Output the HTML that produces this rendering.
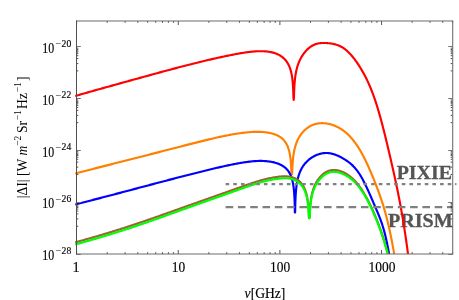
<!DOCTYPE html>
<html><head><meta charset="utf-8"><title>plot</title>
<style>
html,body{margin:0;padding:0;background:#fff;}
#c{position:relative;width:459px;height:300px;overflow:hidden;background:#fff;font-family:"Liberation Serif",serif;color:#000;}
svg{position:absolute;left:0;top:0;will-change:transform;}
</style></head><body>
<div id="c">
<svg width="459" height="300" viewBox="0 0 459 300">
<defs><clipPath id="cp"><rect x="75.2" y="21.0" width="377.3" height="233.0"/></clipPath></defs>
<g font-family="Liberation Serif, serif" font-size="19" font-weight="bold" fill="#555" stroke="#555" stroke-width="0.3">
<text x="396.7" y="178.9" textLength="55.2" lengthAdjust="spacingAndGlyphs">PIXIE</text>
<text x="387.9" y="226.7" textLength="64.8" lengthAdjust="spacingAndGlyphs">PRISM</text>
</g>
<g clip-path="url(#cp)" fill="none" stroke-linejoin="round">
<path d="M75.00,96.06 L76.00,95.77 L77.00,95.48 L78.00,95.20 L79.00,94.91 L80.00,94.63 L81.00,94.34 L82.00,94.06 L83.00,93.77 L84.00,93.49 L85.00,93.20 L86.00,92.92 L87.00,92.63 L88.00,92.35 L89.00,92.07 L90.00,91.79 L91.00,91.50 L92.00,91.22 L93.00,90.94 L94.00,90.66 L95.00,90.38 L96.00,90.09 L97.00,89.81 L98.00,89.53 L99.00,89.25 L100.00,88.97 L101.00,88.69 L102.00,88.41 L103.00,88.13 L104.00,87.85 L105.00,87.57 L106.00,87.29 L107.00,87.01 L108.00,86.73 L109.00,86.45 L110.00,86.18 L111.00,85.90 L112.00,85.62 L113.00,85.34 L114.00,85.06 L115.00,84.78 L116.00,84.51 L117.00,84.23 L118.00,83.95 L119.00,83.67 L120.00,83.40 L121.00,83.12 L122.00,82.84 L123.00,82.57 L124.00,82.29 L125.00,82.01 L126.00,81.73 L127.00,81.46 L128.00,81.18 L129.00,80.90 L130.00,80.63 L131.00,80.35 L132.00,80.08 L133.00,79.80 L134.00,79.52 L135.00,79.25 L136.00,78.97 L137.00,78.69 L138.00,78.42 L139.00,78.14 L140.00,77.87 L141.00,77.59 L142.00,77.32 L143.00,77.04 L144.00,76.77 L145.00,76.49 L146.00,76.22 L147.00,75.94 L148.00,75.67 L149.00,75.39 L150.00,75.12 L151.00,74.84 L152.00,74.57 L153.00,74.30 L154.00,74.02 L155.00,73.75 L156.00,73.48 L157.00,73.21 L158.00,72.93 L159.00,72.66 L160.00,72.39 L161.00,72.12 L162.00,71.85 L163.00,71.58 L164.00,71.31 L165.00,71.04 L166.00,70.77 L167.00,70.50 L168.00,70.23 L169.00,69.96 L170.00,69.70 L171.00,69.43 L172.00,69.16 L173.00,68.90 L174.00,68.63 L175.00,68.37 L176.00,68.10 L177.00,67.84 L178.00,67.57 L179.00,67.31 L180.00,67.05 L181.00,66.79 L182.00,66.53 L183.00,66.27 L184.00,66.01 L185.00,65.75 L186.00,65.49 L187.00,65.24 L188.00,64.98 L189.00,64.73 L190.00,64.47 L191.00,64.22 L192.00,63.96 L193.00,63.71 L194.00,63.46 L195.00,63.21 L196.00,62.96 L197.00,62.72 L198.00,62.47 L199.00,62.22 L200.00,61.98 L201.00,61.73 L202.00,61.49 L203.00,61.25 L204.00,61.01 L205.00,60.77 L206.00,60.53 L207.00,60.30 L208.00,60.06 L209.00,59.82 L210.00,59.59 L211.00,59.36 L212.00,59.13 L213.00,58.90 L214.00,58.67 L215.00,58.44 L216.00,58.22 L217.00,57.99 L218.00,57.77 L219.00,57.55 L220.00,57.33 L221.00,57.11 L222.00,56.89 L223.00,56.68 L224.00,56.47 L225.00,56.25 L226.00,56.05 L227.00,55.84 L228.00,55.63 L229.00,55.43 L230.00,55.23 L231.00,55.03 L232.00,54.83 L233.00,54.63 L234.00,54.44 L235.00,54.25 L236.00,54.06 L237.00,53.88 L238.00,53.70 L239.00,53.52 L240.00,53.34 L241.00,53.17 L242.00,53.01 L243.00,52.84 L244.00,52.69 L245.00,52.54 L246.00,52.39 L247.00,52.25 L248.00,52.12 L249.00,52.00 L250.00,51.88 L251.00,51.77 L252.00,51.66 L253.00,51.57 L254.00,51.49 L255.00,51.41 L256.00,51.35 L257.00,51.29 L258.00,51.25 L259.00,51.22 L260.00,51.21 L261.00,51.20 L262.00,51.21 L263.00,51.24 L264.00,51.28 L265.00,51.34 L266.00,51.42 L267.00,51.52 L268.00,51.64 L269.00,51.78 L270.00,51.94 L271.00,52.13 L272.00,52.35 L273.00,52.60 L274.00,52.88 L275.00,53.20 L276.00,53.56 L277.00,53.96 L278.00,54.41 L279.00,54.91 L280.00,55.48 L281.00,56.11 L282.00,56.82 L283.00,57.61 L284.00,58.51 L285.00,59.54 L286.00,60.71 L287.00,62.08 L288.00,63.70 L289.00,65.67 L290.00,68.16 L290.70,70.38 L290.75,70.55 L290.80,70.74 L290.85,70.92 L290.90,71.11 L290.95,71.30 L291.00,71.50 L291.05,71.70 L291.10,71.90 L291.15,72.11 L291.20,72.32 L291.25,72.54 L291.30,72.76 L291.35,72.99 L291.40,73.22 L291.45,73.46 L291.50,73.70 L291.55,73.95 L291.60,74.20 L291.65,74.46 L291.70,74.73 L291.75,75.00 L291.80,75.28 L291.85,75.57 L291.90,75.87 L291.95,76.18 L292.00,76.49 L292.05,76.82 L292.10,77.15 L292.15,77.50 L292.20,77.86 L292.25,78.23 L292.30,78.61 L292.35,79.01 L292.40,79.42 L292.45,79.85 L292.50,80.30 L292.55,80.77 L292.60,81.26 L292.65,81.77 L292.70,82.31 L292.75,82.87 L292.80,83.47 L292.85,84.10 L292.90,84.77 L292.95,85.49 L293.00,86.25 L293.05,87.07 L293.10,87.96 L293.15,88.93 L293.20,89.99 L293.25,91.16 L293.30,92.48 L293.35,93.97 L293.40,95.69 L293.45,97.73 L293.70,100.00 L293.95,97.61 L294.00,95.55 L294.05,93.81 L294.10,92.30 L294.15,90.96 L294.20,89.76 L294.25,88.68 L294.30,87.69 L294.35,86.78 L294.40,85.93 L294.45,85.15 L294.50,84.41 L294.55,83.72 L294.60,83.06 L294.65,82.44 L294.70,81.85 L294.75,81.29 L294.80,80.76 L294.85,80.25 L294.90,79.76 L294.95,79.29 L295.00,78.83 L295.05,78.40 L295.10,77.98 L295.15,77.57 L295.20,77.18 L295.25,76.80 L295.30,76.43 L295.35,76.07 L295.40,75.72 L295.45,75.38 L295.50,75.05 L295.55,74.73 L295.60,74.42 L295.65,74.12 L295.70,73.82 L295.75,73.53 L295.80,73.25 L295.85,72.97 L295.90,72.70 L295.95,72.43 L296.00,72.17 L296.05,71.92 L296.10,71.67 L296.15,71.43 L296.20,71.19 L296.25,70.95 L296.30,70.72 L296.35,70.49 L296.40,70.27 L296.45,70.05 L296.50,69.84 L296.55,69.62 L296.60,69.42 L296.65,69.21 L296.70,69.01 L297.20,67.15 L297.70,65.52 L298.20,64.06 L298.70,62.74 L299.20,61.54 L299.70,60.42 L300.20,59.39 L300.70,58.42 L301.20,57.52 L301.70,56.66 L302.20,55.85 L302.70,55.09 L303.20,54.36 L303.70,53.66 L304.20,53.00 L304.70,52.37 L305.20,51.76 L305.70,51.19 L306.20,50.63 L306.70,50.11 L307.20,49.60 L307.70,49.12 L308.20,48.66 L308.70,48.22 L309.20,47.80 L309.70,47.40 L310.20,47.03 L310.70,46.67 L311.20,46.33 L311.70,46.01 L312.20,45.72 L312.70,45.44 L313.20,45.18 L313.70,44.93 L314.20,44.71 L314.70,44.50 L315.20,44.31 L315.70,44.13 L316.20,43.97 L316.70,43.82 L317.20,43.69 L317.70,43.57 L318.20,43.46 L318.70,43.36 L319.20,43.28 L319.70,43.21 L320.20,43.14 L320.70,43.09 L321.20,43.05 L321.70,43.01 L322.20,42.99 L322.70,42.97 L323.20,42.96 L323.70,42.96 L324.20,42.96 L324.70,42.97 L325.20,42.99 L325.70,43.01 L326.20,43.04 L326.70,43.07 L327.20,43.11 L327.70,43.15 L328.20,43.20 L328.70,43.25 L329.20,43.30 L329.70,43.35 L330.20,43.42 L330.70,43.48 L331.20,43.56 L331.70,43.63 L332.20,43.72 L332.70,43.81 L333.20,43.91 L333.70,44.01 L334.20,44.12 L334.70,44.24 L335.20,44.37 L335.70,44.51 L336.20,44.66 L336.70,44.82 L337.20,44.98 L337.70,45.16 L338.20,45.35 L338.70,45.55 L339.20,45.76 L339.70,45.98 L340.20,46.22 L340.70,46.46 L341.20,46.73 L341.70,47.00 L342.20,47.29 L342.70,47.59 L343.20,47.91 L343.70,48.25 L344.20,48.60 L344.70,48.96 L345.20,49.34 L345.70,49.74 L346.20,50.15 L346.70,50.58 L347.20,51.02 L347.70,51.48 L348.20,51.95 L348.70,52.44 L349.20,52.94 L349.70,53.46 L350.20,53.99 L350.70,54.53 L351.20,55.10 L351.70,55.67 L352.20,56.26 L352.70,56.86 L353.20,57.48 L353.70,58.11 L354.20,58.75 L354.70,59.41 L355.20,60.08 L355.70,60.77 L356.20,61.47 L356.70,62.18 L357.20,62.90 L357.70,63.64 L358.20,64.39 L358.70,65.15 L359.20,65.93 L359.70,66.71 L360.20,67.52 L360.70,68.33 L361.20,69.15 L361.70,69.99 L362.20,70.85 L362.70,71.72 L363.20,72.61 L363.70,73.51 L364.20,74.43 L364.70,75.37 L365.20,76.32 L365.70,77.30 L366.20,78.30 L366.70,79.31 L367.20,80.35 L367.70,81.41 L368.20,82.49 L368.70,83.60 L369.20,84.73 L369.70,85.89 L370.20,87.07 L370.70,88.27 L371.20,89.51 L371.70,90.77 L372.20,92.06 L372.70,93.38 L373.20,94.72 L373.70,96.10 L374.20,97.51 L374.70,98.95 L375.20,100.42 L375.70,101.93 L376.20,103.46 L376.70,105.04 L377.20,106.64 L377.70,108.28 L378.20,109.95 L378.70,111.64 L379.20,113.37 L379.70,115.13 L380.20,116.91 L380.70,118.72 L381.20,120.56 L381.70,122.42 L382.20,124.31 L382.70,126.22 L383.20,128.15 L383.70,130.11 L384.20,132.08 L384.70,134.08 L385.20,136.10 L385.70,138.13 L386.20,140.18 L386.70,142.25 L387.20,144.33 L387.70,146.43 L388.20,148.55 L388.70,150.68 L389.20,152.82 L389.70,154.97 L390.20,157.13 L390.70,159.31 L391.20,161.49 L391.70,163.68 L392.20,165.88 L392.70,168.09 L393.20,170.30 L393.70,172.54 L394.20,174.79 L394.70,177.05 L395.20,179.34 L395.70,181.66 L396.20,184.00 L396.70,186.37 L397.20,188.77 L397.70,191.21 L398.20,193.69 L398.70,196.21 L399.20,198.77 L399.70,201.38 L400.20,204.04 L400.70,206.75 L401.20,209.51 L401.70,212.33 L402.20,215.22 L402.70,218.16 L403.20,221.17 L403.70,224.25 L404.20,227.40 L404.70,230.62 L405.20,233.92 L405.70,237.29 L406.20,240.75 L406.70,244.30 L407.20,247.93 L407.70,251.65 L408.20,255.46 L408.70,259.37 L409.20,263.38 L409.70,267.48" stroke="#ff0000" stroke-width="2.15"/>
<path d="M75.00,173.58 L76.00,173.32 L77.00,173.06 L78.00,172.80 L79.00,172.53 L80.00,172.27 L81.00,172.01 L82.00,171.75 L83.00,171.50 L84.00,171.24 L85.00,170.98 L86.00,170.72 L87.00,170.46 L88.00,170.21 L89.00,169.95 L90.00,169.69 L91.00,169.43 L92.00,169.18 L93.00,168.92 L94.00,168.67 L95.00,168.41 L96.00,168.15 L97.00,167.90 L98.00,167.64 L99.00,167.39 L100.00,167.13 L101.00,166.88 L102.00,166.63 L103.00,166.37 L104.00,166.12 L105.00,165.86 L106.00,165.61 L107.00,165.36 L108.00,165.10 L109.00,164.85 L110.00,164.59 L111.00,164.34 L112.00,164.09 L113.00,163.83 L114.00,163.58 L115.00,163.33 L116.00,163.07 L117.00,162.82 L118.00,162.57 L119.00,162.31 L120.00,162.06 L121.00,161.81 L122.00,161.55 L123.00,161.30 L124.00,161.05 L125.00,160.79 L126.00,160.54 L127.00,160.29 L128.00,160.03 L129.00,159.78 L130.00,159.52 L131.00,159.27 L132.00,159.02 L133.00,158.76 L134.00,158.51 L135.00,158.25 L136.00,158.00 L137.00,157.74 L138.00,157.49 L139.00,157.23 L140.00,156.98 L141.00,156.72 L142.00,156.46 L143.00,156.21 L144.00,155.95 L145.00,155.70 L146.00,155.44 L147.00,155.18 L148.00,154.93 L149.00,154.67 L150.00,154.41 L151.00,154.16 L152.00,153.90 L153.00,153.64 L154.00,153.38 L155.00,153.13 L156.00,152.87 L157.00,152.61 L158.00,152.35 L159.00,152.10 L160.00,151.84 L161.00,151.58 L162.00,151.32 L163.00,151.07 L164.00,150.81 L165.00,150.55 L166.00,150.29 L167.00,150.04 L168.00,149.78 L169.00,149.52 L170.00,149.26 L171.00,149.00 L172.00,148.75 L173.00,148.49 L174.00,148.23 L175.00,147.97 L176.00,147.72 L177.00,147.46 L178.00,147.20 L179.00,146.95 L180.00,146.69 L181.00,146.43 L182.00,146.18 L183.00,145.92 L184.00,145.66 L185.00,145.41 L186.00,145.15 L187.00,144.90 L188.00,144.64 L189.00,144.39 L190.00,144.13 L191.00,143.88 L192.00,143.62 L193.00,143.37 L194.00,143.12 L195.00,142.87 L196.00,142.61 L197.00,142.36 L198.00,142.11 L199.00,141.86 L200.00,141.61 L201.00,141.36 L202.00,141.11 L203.00,140.86 L204.00,140.62 L205.00,140.37 L206.00,140.13 L207.00,139.88 L208.00,139.64 L209.00,139.40 L210.00,139.16 L211.00,138.93 L212.00,138.69 L213.00,138.46 L214.00,138.23 L215.00,138.00 L216.00,137.77 L217.00,137.54 L218.00,137.32 L219.00,137.10 L220.00,136.88 L221.00,136.66 L222.00,136.45 L223.00,136.24 L224.00,136.03 L225.00,135.83 L226.00,135.63 L227.00,135.43 L228.00,135.23 L229.00,135.04 L230.00,134.85 L231.00,134.67 L232.00,134.49 L233.00,134.31 L234.00,134.14 L235.00,133.97 L236.00,133.81 L237.00,133.65 L238.00,133.50 L239.00,133.35 L240.00,133.21 L241.00,133.07 L242.00,132.94 L243.00,132.81 L244.00,132.69 L245.00,132.58 L246.00,132.47 L247.00,132.37 L248.00,132.28 L249.00,132.20 L250.00,132.12 L251.00,132.05 L252.00,131.99 L253.00,131.94 L254.00,131.90 L255.00,131.87 L256.00,131.85 L257.00,131.84 L258.00,131.84 L259.00,131.86 L260.00,131.88 L261.00,131.93 L262.00,131.98 L263.00,132.05 L264.00,132.14 L265.00,132.24 L266.00,132.36 L267.00,132.50 L268.00,132.66 L269.00,132.84 L270.00,133.04 L271.00,133.26 L272.00,133.52 L273.00,133.80 L274.00,134.12 L275.00,134.47 L276.00,134.86 L277.00,135.29 L278.00,135.78 L279.00,136.32 L280.00,136.93 L281.00,137.63 L282.00,138.42 L283.00,139.32 L284.00,140.38 L285.00,141.62 L286.00,143.11 L287.00,144.95 L288.00,147.29 L288.80,149.72 L288.85,149.89 L288.90,150.07 L288.95,150.25 L289.00,150.44 L289.05,150.63 L289.10,150.82 L289.15,151.01 L289.20,151.21 L289.25,151.42 L289.30,151.63 L289.35,151.84 L289.40,152.06 L289.45,152.28 L289.50,152.51 L289.55,152.74 L289.60,152.98 L289.65,153.23 L289.70,153.48 L289.75,153.73 L289.80,154.00 L289.85,154.27 L289.90,154.55 L289.95,154.83 L290.00,155.13 L290.05,155.43 L290.10,155.74 L290.15,156.07 L290.20,156.40 L290.25,156.74 L290.30,157.10 L290.35,157.46 L290.40,157.84 L290.45,158.24 L290.50,158.65 L290.55,159.08 L290.60,159.52 L290.65,159.99 L290.70,160.48 L290.75,160.99 L290.80,161.52 L290.85,162.08 L290.90,162.68 L290.95,163.31 L291.00,163.98 L291.05,164.69 L291.10,165.45 L291.15,166.27 L291.20,167.16 L291.25,168.12 L291.30,169.18 L291.35,170.35 L291.40,171.66 L291.45,173.15 L291.80,174.50 L292.15,172.97 L292.20,171.46 L292.25,170.12 L292.30,168.92 L292.35,167.84 L292.40,166.85 L292.45,165.93 L292.50,165.09 L292.55,164.30 L292.60,163.56 L292.65,162.87 L292.70,162.21 L292.75,161.59 L292.80,161.00 L292.85,160.44 L292.90,159.91 L292.95,159.39 L293.00,158.90 L293.05,158.43 L293.10,157.98 L293.15,157.54 L293.20,157.12 L293.25,156.71 L293.30,156.32 L293.35,155.94 L293.40,155.57 L293.45,155.21 L293.50,154.86 L293.55,154.52 L293.60,154.20 L293.65,153.88 L293.70,153.56 L293.75,153.26 L293.80,152.96 L293.85,152.67 L293.90,152.39 L293.95,152.11 L294.00,151.84 L294.05,151.58 L294.10,151.32 L294.15,151.07 L294.20,150.82 L294.25,150.57 L294.30,150.33 L294.35,150.10 L294.40,149.87 L294.45,149.64 L294.50,149.42 L294.55,149.20 L294.60,148.99 L294.65,148.78 L294.70,148.57 L294.75,148.37 L294.80,148.17 L295.30,146.32 L295.80,144.71 L296.30,143.28 L296.80,141.99 L297.30,140.81 L297.80,139.74 L298.30,138.74 L298.80,137.82 L299.30,136.95 L299.80,136.14 L300.30,135.38 L300.80,134.66 L301.30,133.99 L301.80,133.34 L302.30,132.73 L302.80,132.15 L303.30,131.60 L303.80,131.07 L304.30,130.57 L304.80,130.09 L305.30,129.63 L305.80,129.20 L306.30,128.78 L306.80,128.38 L307.30,128.00 L307.80,127.64 L308.30,127.30 L308.80,126.97 L309.30,126.66 L309.80,126.36 L310.30,126.08 L310.80,125.82 L311.30,125.57 L311.80,125.33 L312.30,125.11 L312.80,124.90 L313.30,124.71 L313.80,124.52 L314.30,124.36 L314.80,124.20 L315.30,124.06 L315.80,123.92 L316.30,123.80 L316.80,123.69 L317.30,123.59 L317.80,123.51 L318.30,123.43 L318.80,123.36 L319.30,123.31 L319.80,123.26 L320.30,123.22 L320.80,123.20 L321.30,123.18 L321.80,123.17 L322.30,123.17 L322.80,123.18 L323.30,123.20 L323.80,123.22 L324.30,123.26 L324.80,123.30 L325.30,123.35 L325.80,123.41 L326.30,123.48 L326.80,123.55 L327.30,123.63 L327.80,123.72 L328.30,123.82 L328.80,123.92 L329.30,124.03 L329.80,124.15 L330.30,124.28 L330.80,124.41 L331.30,124.55 L331.80,124.70 L332.30,124.86 L332.80,125.02 L333.30,125.20 L333.80,125.38 L334.30,125.57 L334.80,125.77 L335.30,125.98 L335.80,126.19 L336.30,126.42 L336.80,126.65 L337.30,126.89 L337.80,127.15 L338.30,127.41 L338.80,127.68 L339.30,127.96 L339.80,128.25 L340.30,128.55 L340.80,128.86 L341.30,129.18 L341.80,129.51 L342.30,129.85 L342.80,130.20 L343.30,130.57 L343.80,130.94 L344.30,131.32 L344.80,131.72 L345.30,132.13 L345.80,132.54 L346.30,132.97 L346.80,133.42 L347.30,133.87 L347.80,134.34 L348.30,134.81 L348.80,135.31 L349.30,135.81 L349.80,136.33 L350.30,136.86 L350.80,137.40 L351.30,137.96 L351.80,138.54 L352.30,139.13 L352.80,139.73 L353.30,140.34 L353.80,140.98 L354.30,141.62 L354.80,142.29 L355.30,142.97 L355.80,143.66 L356.30,144.37 L356.80,145.10 L357.30,145.84 L357.80,146.60 L358.30,147.38 L358.80,148.18 L359.30,148.99 L359.80,149.82 L360.30,150.67 L360.80,151.53 L361.30,152.42 L361.80,153.32 L362.30,154.24 L362.80,155.17 L363.30,156.12 L363.80,157.09 L364.30,158.07 L364.80,159.07 L365.30,160.09 L365.80,161.12 L366.30,162.16 L366.80,163.22 L367.30,164.30 L367.80,165.38 L368.30,166.49 L368.80,167.60 L369.30,168.73 L369.80,169.87 L370.30,171.02 L370.80,172.19 L371.30,173.37 L371.80,174.56 L372.30,175.76 L372.80,176.97 L373.30,178.20 L373.80,179.43 L374.30,180.68 L374.80,181.93 L375.30,183.20 L375.80,184.47 L376.30,185.76 L376.80,187.05 L377.30,188.36 L377.80,189.68 L378.30,191.02 L378.80,192.38 L379.30,193.76 L379.80,195.16 L380.30,196.58 L380.80,198.04 L381.30,199.52 L381.80,201.03 L382.30,202.57 L382.80,204.15 L383.30,205.77 L383.80,207.42 L384.30,209.12 L384.80,210.85 L385.30,212.64 L385.80,214.47 L386.30,216.34 L386.80,218.27 L387.30,220.26 L387.80,222.29 L388.30,224.39 L388.80,226.54 L389.30,228.76 L389.80,231.03 L390.30,233.38 L390.80,235.79 L391.30,238.27 L391.80,240.82 L392.30,243.44 L392.80,246.14 L393.30,248.91 L393.80,251.77 L394.30,254.70 L394.80,257.72 L395.30,260.83 L395.80,264.02" stroke="#ff8000" stroke-width="2.15"/>
<path d="M75.00,204.49 L76.00,204.24 L77.00,203.99 L78.00,203.74 L79.00,203.49 L80.00,203.23 L81.00,202.98 L82.00,202.73 L83.00,202.47 L84.00,202.22 L85.00,201.97 L86.00,201.71 L87.00,201.45 L88.00,201.20 L89.00,200.94 L90.00,200.69 L91.00,200.43 L92.00,200.17 L93.00,199.91 L94.00,199.66 L95.00,199.40 L96.00,199.14 L97.00,198.88 L98.00,198.62 L99.00,198.36 L100.00,198.10 L101.00,197.84 L102.00,197.58 L103.00,197.32 L104.00,197.06 L105.00,196.80 L106.00,196.53 L107.00,196.27 L108.00,196.01 L109.00,195.75 L110.00,195.49 L111.00,195.22 L112.00,194.96 L113.00,194.70 L114.00,194.43 L115.00,194.17 L116.00,193.91 L117.00,193.64 L118.00,193.38 L119.00,193.11 L120.00,192.85 L121.00,192.59 L122.00,192.32 L123.00,192.06 L124.00,191.79 L125.00,191.53 L126.00,191.26 L127.00,191.00 L128.00,190.73 L129.00,190.47 L130.00,190.20 L131.00,189.94 L132.00,189.67 L133.00,189.41 L134.00,189.14 L135.00,188.88 L136.00,188.61 L137.00,188.35 L138.00,188.08 L139.00,187.82 L140.00,187.55 L141.00,187.29 L142.00,187.02 L143.00,186.76 L144.00,186.49 L145.00,186.23 L146.00,185.96 L147.00,185.70 L148.00,185.43 L149.00,185.17 L150.00,184.90 L151.00,184.64 L152.00,184.37 L153.00,184.11 L154.00,183.85 L155.00,183.58 L156.00,183.32 L157.00,183.05 L158.00,182.79 L159.00,182.53 L160.00,182.26 L161.00,182.00 L162.00,181.74 L163.00,181.47 L164.00,181.21 L165.00,180.95 L166.00,180.69 L167.00,180.42 L168.00,180.16 L169.00,179.90 L170.00,179.64 L171.00,179.37 L172.00,179.11 L173.00,178.85 L174.00,178.59 L175.00,178.33 L176.00,178.07 L177.00,177.81 L178.00,177.55 L179.00,177.29 L180.00,177.03 L181.00,176.77 L182.00,176.51 L183.00,176.25 L184.00,176.00 L185.00,175.74 L186.00,175.48 L187.00,175.22 L188.00,174.97 L189.00,174.71 L190.00,174.46 L191.00,174.20 L192.00,173.95 L193.00,173.69 L194.00,173.44 L195.00,173.19 L196.00,172.93 L197.00,172.68 L198.00,172.43 L199.00,172.18 L200.00,171.93 L201.00,171.68 L202.00,171.43 L203.00,171.18 L204.00,170.94 L205.00,170.69 L206.00,170.44 L207.00,170.20 L208.00,169.96 L209.00,169.71 L210.00,169.47 L211.00,169.23 L212.00,168.99 L213.00,168.76 L214.00,168.52 L215.00,168.29 L216.00,168.05 L217.00,167.82 L218.00,167.59 L219.00,167.36 L220.00,167.13 L221.00,166.91 L222.00,166.68 L223.00,166.46 L224.00,166.24 L225.00,166.02 L226.00,165.81 L227.00,165.59 L228.00,165.38 L229.00,165.17 L230.00,164.96 L231.00,164.76 L232.00,164.55 L233.00,164.35 L234.00,164.16 L235.00,163.96 L236.00,163.77 L237.00,163.58 L238.00,163.40 L239.00,163.22 L240.00,163.04 L241.00,162.87 L242.00,162.70 L243.00,162.54 L244.00,162.38 L245.00,162.23 L246.00,162.09 L247.00,161.95 L248.00,161.82 L249.00,161.69 L250.00,161.58 L251.00,161.47 L252.00,161.37 L253.00,161.27 L254.00,161.19 L255.00,161.12 L256.00,161.06 L257.00,161.01 L258.00,160.97 L259.00,160.94 L260.00,160.93 L261.00,160.93 L262.00,160.94 L263.00,160.97 L264.00,161.01 L265.00,161.07 L266.00,161.14 L267.00,161.23 L268.00,161.34 L269.00,161.47 L270.00,161.61 L271.00,161.78 L272.00,161.97 L273.00,162.17 L274.00,162.41 L275.00,162.66 L276.00,162.95 L277.00,163.27 L278.00,163.62 L279.00,164.01 L280.00,164.44 L281.00,164.92 L282.00,165.46 L283.00,166.06 L284.00,166.75 L285.00,167.53 L286.00,168.42 L287.00,169.46 L288.00,170.69 L289.00,172.14 L290.00,173.93 L291.00,176.18 L292.00,179.17 L292.05,179.34 L292.10,179.52 L292.15,179.71 L292.20,179.89 L292.25,180.08 L292.30,180.28 L292.35,180.48 L292.40,180.68 L292.45,180.88 L292.50,181.09 L292.55,181.31 L292.60,181.53 L292.65,181.75 L292.70,181.98 L292.75,182.22 L292.80,182.46 L292.85,182.71 L292.90,182.96 L292.95,183.22 L293.00,183.49 L293.05,183.76 L293.10,184.04 L293.15,184.33 L293.20,184.62 L293.25,184.93 L293.30,185.24 L293.35,185.57 L293.40,185.90 L293.45,186.25 L293.50,186.61 L293.55,186.97 L293.60,187.36 L293.65,187.76 L293.70,188.17 L293.75,188.60 L293.80,189.05 L293.85,189.51 L293.90,190.00 L293.95,190.51 L294.00,191.05 L294.05,191.62 L294.10,192.21 L294.15,192.85 L294.20,193.52 L294.25,194.23 L294.30,195.00 L294.35,195.82 L294.40,196.71 L294.45,197.68 L294.50,198.74 L294.55,199.91 L294.60,201.22 L294.65,202.71 L294.70,204.44 L294.75,206.48 L294.80,208.97 L294.85,212.20 L295.00,212.50 L295.15,212.14 L295.20,208.89 L295.25,206.37 L295.30,204.31 L295.35,202.57 L295.40,201.06 L295.45,199.72 L295.50,198.53 L295.55,197.45 L295.60,196.46 L295.65,195.55 L295.70,194.70 L295.75,193.92 L295.80,193.18 L295.85,192.49 L295.90,191.84 L295.95,191.22 L296.00,190.63 L296.05,190.08 L296.10,189.54 L296.15,189.03 L296.20,188.54 L296.25,188.08 L296.30,187.63 L296.35,187.19 L296.40,186.77 L296.45,186.37 L296.50,185.98 L296.55,185.60 L296.60,185.23 L296.65,184.88 L296.70,184.53 L296.75,184.20 L296.80,183.87 L296.85,183.56 L296.90,183.25 L296.95,182.95 L297.00,182.65 L297.05,182.36 L297.10,182.08 L297.15,181.81 L297.20,181.54 L297.25,181.28 L297.30,181.03 L297.35,180.78 L297.40,180.53 L297.45,180.29 L297.50,180.05 L297.55,179.82 L297.60,179.60 L297.65,179.37 L297.70,179.15 L297.75,178.94 L297.80,178.73 L297.85,178.52 L297.90,178.32 L297.95,178.12 L298.00,177.92 L298.50,176.10 L299.00,174.52 L299.50,173.12 L300.00,171.87 L300.50,170.73 L301.00,169.68 L301.50,168.72 L302.00,167.83 L302.50,167.00 L303.00,166.23 L303.50,165.50 L304.00,164.81 L304.50,164.16 L305.00,163.55 L305.50,162.97 L306.00,162.42 L306.50,161.89 L307.00,161.39 L307.50,160.91 L308.00,160.45 L308.50,160.02 L309.00,159.60 L309.50,159.20 L310.00,158.81 L310.50,158.45 L311.00,158.09 L311.50,157.76 L312.00,157.43 L312.50,157.12 L313.00,156.82 L313.50,156.54 L314.00,156.26 L314.50,156.00 L315.00,155.75 L315.50,155.51 L316.00,155.28 L316.50,155.07 L317.00,154.86 L317.50,154.67 L318.00,154.49 L318.50,154.31 L319.00,154.15 L319.50,154.00 L320.00,153.86 L320.50,153.73 L321.00,153.61 L321.50,153.50 L322.00,153.40 L322.50,153.31 L323.00,153.24 L323.50,153.17 L324.00,153.11 L324.50,153.07 L325.00,153.04 L325.50,153.01 L326.00,153.00 L326.50,153.00 L327.00,153.01 L327.50,153.03 L328.00,153.06 L328.50,153.11 L329.00,153.16 L329.50,153.23 L330.00,153.31 L330.50,153.39 L331.00,153.49 L331.50,153.60 L332.00,153.72 L332.50,153.84 L333.00,153.98 L333.50,154.13 L334.00,154.28 L334.50,154.44 L335.00,154.62 L335.50,154.80 L336.00,154.99 L336.50,155.19 L337.00,155.39 L337.50,155.60 L338.00,155.82 L338.50,156.05 L339.00,156.29 L339.50,156.53 L340.00,156.78 L340.50,157.03 L341.00,157.30 L341.50,157.57 L342.00,157.84 L342.50,158.12 L343.00,158.41 L343.50,158.70 L344.00,159.00 L344.50,159.30 L345.00,159.61 L345.50,159.92 L346.00,160.24 L346.50,160.57 L347.00,160.91 L347.50,161.26 L348.00,161.62 L348.50,161.99 L349.00,162.37 L349.50,162.76 L350.00,163.16 L350.50,163.57 L351.00,164.00 L351.50,164.45 L352.00,164.91 L352.50,165.38 L353.00,165.87 L353.50,166.38 L354.00,166.90 L354.50,167.45 L355.00,168.01 L355.50,168.59 L356.00,169.19 L356.50,169.81 L357.00,170.46 L357.50,171.12 L358.00,171.81 L358.50,172.52 L359.00,173.26 L359.50,174.02 L360.00,174.80 L360.50,175.62 L361.00,176.45 L361.50,177.31 L362.00,178.20 L362.50,179.10 L363.00,180.03 L363.50,180.98 L364.00,181.95 L364.50,182.94 L365.00,183.94 L365.50,184.96 L366.00,186.00 L366.50,187.05 L367.00,188.12 L367.50,189.20 L368.00,190.29 L368.50,191.39 L369.00,192.50 L369.50,193.63 L370.00,194.76 L370.50,195.90 L371.00,197.04 L371.50,198.20 L372.00,199.35 L372.50,200.51 L373.00,201.68 L373.50,202.84 L374.00,204.01 L374.50,205.18 L375.00,206.35 L375.50,207.51 L376.00,208.68 L376.50,209.84 L377.00,211.00 L377.50,212.17 L378.00,213.35 L378.50,214.56 L379.00,215.78 L379.50,217.04 L380.00,218.33 L380.50,219.65 L381.00,221.03 L381.50,222.45 L382.00,223.93 L382.50,225.47 L383.00,227.08 L383.50,228.76 L384.00,230.51 L384.50,232.35 L385.00,234.28 L385.50,236.30 L386.00,238.42 L386.50,240.64 L387.00,242.97 L387.50,245.42 L388.00,247.99 L388.50,250.68 L389.00,253.51 L389.50,256.47 L390.00,259.57 L390.50,262.82" stroke="#0000ff" stroke-width="2.15"/>
<path d="M75.00,242.41 L76.00,242.13 L77.00,241.86 L78.00,241.59 L79.00,241.31 L80.00,241.04 L81.00,240.76 L82.00,240.49 L83.00,240.21 L84.00,239.93 L85.00,239.65 L86.00,239.37 L87.00,239.08 L88.00,238.80 L89.00,238.52 L90.00,238.23 L91.00,237.94 L92.00,237.66 L93.00,237.37 L94.00,237.08 L95.00,236.79 L96.00,236.50 L97.00,236.20 L98.00,235.91 L99.00,235.61 L100.00,235.32 L101.00,235.02 L102.00,234.72 L103.00,234.43 L104.00,234.13 L105.00,233.82 L106.00,233.52 L107.00,233.22 L108.00,232.91 L109.00,232.61 L110.00,232.30 L111.00,231.99 L112.00,231.69 L113.00,231.38 L114.00,231.07 L115.00,230.75 L116.00,230.44 L117.00,230.13 L118.00,229.81 L119.00,229.49 L120.00,229.18 L121.00,228.86 L122.00,228.54 L123.00,228.22 L124.00,227.90 L125.00,227.57 L126.00,227.25 L127.00,226.92 L128.00,226.60 L129.00,226.27 L130.00,225.94 L131.00,225.61 L132.00,225.28 L133.00,224.95 L134.00,224.62 L135.00,224.28 L136.00,223.95 L137.00,223.61 L138.00,223.27 L139.00,222.93 L140.00,222.59 L141.00,222.26 L142.00,221.92 L143.00,221.58 L144.00,221.24 L145.00,220.90 L146.00,220.56 L147.00,220.21 L148.00,219.87 L149.00,219.52 L150.00,219.18 L151.00,218.83 L152.00,218.49 L153.00,218.14 L154.00,217.79 L155.00,217.44 L156.00,217.09 L157.00,216.74 L158.00,216.39 L159.00,216.04 L160.00,215.69 L161.00,215.34 L162.00,214.98 L163.00,214.63 L164.00,214.28 L165.00,213.92 L166.00,213.57 L167.00,213.21 L168.00,212.86 L169.00,212.50 L170.00,212.15 L171.00,211.79 L172.00,211.43 L173.00,211.08 L174.00,210.72 L175.00,210.36 L176.00,210.01 L177.00,209.65 L178.00,209.29 L179.00,208.93 L180.00,208.58 L181.00,208.22 L182.00,207.86 L183.00,207.51 L184.00,207.15 L185.00,206.79 L186.00,206.44 L187.00,206.08 L188.00,205.73 L189.00,205.37 L190.00,205.01 L191.00,204.66 L192.00,204.30 L193.00,203.95 L194.00,203.60 L195.00,203.24 L196.00,202.89 L197.00,202.54 L198.00,202.19 L199.00,201.83 L200.00,201.48 L201.00,201.13 L202.00,200.78 L203.00,200.42 L204.00,200.07 L205.00,199.72 L206.00,199.36 L207.00,199.01 L208.00,198.66 L209.00,198.30 L210.00,197.95 L211.00,197.60 L212.00,197.25 L213.00,196.89 L214.00,196.54 L215.00,196.19 L216.00,195.84 L217.00,195.48 L218.00,195.13 L219.00,194.78 L220.00,194.42 L221.00,194.07 L222.00,193.72 L223.00,193.36 L224.00,193.01 L225.00,192.65 L226.00,192.30 L227.00,191.94 L228.00,191.59 L229.00,191.23 L230.00,190.87 L231.00,190.52 L232.00,190.16 L233.00,189.80 L234.00,189.44 L235.00,189.09 L236.00,188.73 L237.00,188.37 L238.00,188.01 L239.00,187.65 L240.00,187.29 L241.00,186.94 L242.00,186.58 L243.00,186.23 L244.00,185.87 L245.00,185.52 L246.00,185.17 L247.00,184.83 L248.00,184.48 L249.00,184.14 L250.00,183.80 L251.00,183.47 L252.00,183.14 L253.00,182.81 L254.00,182.48 L255.00,182.17 L256.00,181.85 L257.00,181.54 L258.00,181.24 L259.00,180.94 L260.00,180.65 L261.00,180.37 L262.00,180.09 L263.00,179.82 L264.00,179.56 L265.00,179.31 L266.00,179.06 L267.00,178.82 L268.00,178.59 L269.00,178.37 L270.00,178.15 L271.00,177.95 L272.00,177.75 L273.00,177.57 L274.00,177.39 L275.00,177.23 L276.00,177.08 L277.00,176.94 L278.00,176.81 L279.00,176.69 L280.00,176.59 L281.00,176.50 L282.00,176.43 L283.00,176.37 L284.00,176.34 L285.00,176.33 L286.00,176.35 L287.00,176.40 L288.00,176.48 L289.00,176.60 L290.00,176.76 L291.00,176.96 L292.00,177.21 L293.00,177.52 L294.00,177.89 L295.00,178.32 L296.00,178.83 L297.00,179.43 L298.00,180.12 L299.00,180.92 L300.00,181.84 L301.00,182.91 L302.00,184.15 L303.00,185.62 L304.00,187.39 L305.00,189.57 L306.00,192.39 L306.30,193.41 L306.35,193.60 L306.40,193.78 L306.45,193.97 L306.50,194.16 L306.55,194.35 L306.60,194.55 L306.65,194.76 L306.70,194.96 L306.75,195.17 L306.80,195.39 L306.85,195.61 L306.90,195.83 L306.95,196.06 L307.00,196.29 L307.05,196.53 L307.10,196.78 L307.15,197.03 L307.20,197.29 L307.25,197.55 L307.30,197.82 L307.35,198.10 L307.40,198.38 L307.45,198.67 L307.50,198.97 L307.55,199.28 L307.60,199.60 L307.65,199.93 L307.70,200.27 L307.75,200.62 L307.80,200.98 L307.85,201.35 L307.90,201.74 L307.95,202.14 L308.00,202.56 L308.05,202.99 L308.10,203.44 L308.15,203.91 L308.20,204.41 L308.25,204.92 L308.30,205.46 L308.35,206.03 L308.40,206.63 L308.45,207.27 L308.50,207.94 L308.55,208.66 L308.60,209.43 L308.65,210.25 L308.70,211.15 L308.75,212.12 L308.80,213.18 L308.85,214.36 L308.90,215.68 L308.95,217.17 L309.30,218.20 L309.65,217.06 L309.70,215.56 L309.75,214.22 L309.80,213.03 L309.85,211.95 L309.90,210.97 L309.95,210.06 L310.00,209.22 L310.05,208.44 L310.10,207.70 L310.15,207.01 L310.20,206.36 L310.25,205.75 L310.30,205.16 L310.35,204.61 L310.40,204.08 L310.45,203.57 L310.50,203.08 L310.55,202.62 L310.60,202.17 L310.65,201.74 L310.70,201.32 L310.75,200.92 L310.80,200.53 L310.85,200.15 L310.90,199.79 L310.95,199.43 L311.00,199.09 L311.05,198.76 L311.10,198.43 L311.15,198.12 L311.20,197.81 L311.25,197.51 L311.30,197.22 L311.35,196.93 L311.40,196.65 L311.45,196.38 L311.50,196.11 L311.55,195.85 L311.60,195.60 L311.65,195.35 L311.70,195.11 L311.75,194.87 L311.80,194.63 L311.85,194.40 L311.90,194.17 L311.95,193.95 L312.00,193.73 L312.05,193.52 L312.10,193.31 L312.15,193.10 L312.20,192.90 L312.25,192.70 L312.30,192.50 L312.80,190.69 L313.30,189.11 L313.80,187.70 L314.30,186.44 L314.80,185.29 L315.30,184.23 L315.80,183.25 L316.30,182.35 L316.80,181.50 L317.30,180.70 L317.80,179.95 L318.30,179.25 L318.80,178.58 L319.30,177.95 L319.80,177.35 L320.30,176.79 L320.80,176.25 L321.30,175.74 L321.80,175.25 L322.30,174.79 L322.80,174.36 L323.30,173.94 L323.80,173.55 L324.30,173.19 L324.80,172.84 L325.30,172.52 L325.80,172.21 L326.30,171.93 L326.80,171.67 L327.30,171.42 L327.80,171.20 L328.30,171.00 L328.80,170.82 L329.30,170.66 L329.80,170.51 L330.30,170.39 L330.80,170.28 L331.30,170.19 L331.80,170.12 L332.30,170.06 L332.80,170.02 L333.30,169.99 L333.80,169.98 L334.30,169.99 L334.80,170.01 L335.30,170.04 L335.80,170.09 L336.30,170.15 L336.80,170.22 L337.30,170.31 L337.80,170.41 L338.30,170.52 L338.80,170.65 L339.30,170.78 L339.80,170.93 L340.30,171.09 L340.80,171.26 L341.30,171.44 L341.80,171.63 L342.30,171.83 L342.80,172.04 L343.30,172.26 L343.80,172.49 L344.30,172.73 L344.80,172.98 L345.30,173.25 L345.80,173.54 L346.30,173.84 L346.80,174.15 L347.30,174.47 L347.80,174.81 L348.30,175.15 L348.80,175.50 L349.30,175.87 L349.80,176.25 L350.30,176.64 L350.80,177.04 L351.30,177.46 L351.80,177.89 L352.30,178.33 L352.80,178.78 L353.30,179.26 L353.80,179.74 L354.30,180.24 L354.80,180.75 L355.30,181.28 L355.80,181.83 L356.30,182.39 L356.80,182.97 L357.30,183.56 L357.80,184.17 L358.30,184.80 L358.80,185.44 L359.30,186.10 L359.80,186.78 L360.30,187.48 L360.80,188.20 L361.30,188.94 L361.80,189.69 L362.30,190.46 L362.80,191.25 L363.30,192.06 L363.80,192.88 L364.30,193.73 L364.80,194.59 L365.30,195.45 L365.80,196.33 L366.30,197.22 L366.80,198.13 L367.30,199.05 L367.80,200.00 L368.30,200.96 L368.80,201.93 L369.30,202.93 L369.80,203.94 L370.30,204.97 L370.80,206.01 L371.30,207.07 L371.80,208.15 L372.30,209.24 L372.80,210.36 L373.30,211.48 L373.80,212.63 L374.30,213.79 L374.80,214.96 L375.30,216.15 L375.80,217.36 L376.30,218.59 L376.80,219.83 L377.30,221.08 L377.80,222.36 L378.30,223.66 L378.80,224.97 L379.30,226.31 L379.80,227.67 L380.30,229.06 L380.80,230.47 L381.30,231.90 L381.80,233.36 L382.30,234.85 L382.80,236.36 L383.30,237.91 L383.80,239.49 L384.30,241.10 L384.80,242.74 L385.30,244.41 L385.80,246.12 L386.30,247.87 L386.80,249.65 L387.30,251.47 L387.80,253.32 L388.30,255.22 L388.80,257.16 L389.30,259.14" stroke="#996633" stroke-width="2.15"/>
<path d="M75.00,244.51 L76.00,244.23 L77.00,243.96 L78.00,243.69 L79.00,243.41 L80.00,243.14 L81.00,242.86 L82.00,242.59 L83.00,242.31 L84.00,242.03 L85.00,241.75 L86.00,241.47 L87.00,241.18 L88.00,240.90 L89.00,240.62 L90.00,240.33 L91.00,240.04 L92.00,239.76 L93.00,239.47 L94.00,239.18 L95.00,238.89 L96.00,238.60 L97.00,238.30 L98.00,238.01 L99.00,237.71 L100.00,237.42 L101.00,237.12 L102.00,236.82 L103.00,236.53 L104.00,236.23 L105.00,235.92 L106.00,235.62 L107.00,235.32 L108.00,235.01 L109.00,234.71 L110.00,234.40 L111.00,234.09 L112.00,233.79 L113.00,233.48 L114.00,233.17 L115.00,232.85 L116.00,232.54 L117.00,232.23 L118.00,231.91 L119.00,231.59 L120.00,231.28 L121.00,230.96 L122.00,230.64 L123.00,230.32 L124.00,230.00 L125.00,229.67 L126.00,229.35 L127.00,229.02 L128.00,228.70 L129.00,228.37 L130.00,228.04 L131.00,227.71 L132.00,227.38 L133.00,227.05 L134.00,226.72 L135.00,226.38 L136.00,226.05 L137.00,225.71 L138.00,225.37 L139.00,225.03 L140.00,224.69 L141.00,224.35 L142.00,224.01 L143.00,223.67 L144.00,223.33 L145.00,222.98 L146.00,222.64 L147.00,222.29 L148.00,221.94 L149.00,221.59 L150.00,221.25 L151.00,220.90 L152.00,220.55 L153.00,220.20 L154.00,219.84 L155.00,219.49 L156.00,219.14 L157.00,218.79 L158.00,218.43 L159.00,218.08 L160.00,217.72 L161.00,217.37 L162.00,217.01 L163.00,216.65 L164.00,216.30 L165.00,215.94 L166.00,215.58 L167.00,215.22 L168.00,214.86 L169.00,214.50 L170.00,214.15 L171.00,213.79 L172.00,213.43 L173.00,213.07 L174.00,212.71 L175.00,212.35 L176.00,211.99 L177.00,211.63 L178.00,211.27 L179.00,210.90 L180.00,210.54 L181.00,210.18 L182.00,209.82 L183.00,209.46 L184.00,209.10 L185.00,208.74 L186.00,208.38 L187.00,208.02 L188.00,207.67 L189.00,207.31 L190.00,206.95 L191.00,206.59 L192.00,206.23 L193.00,205.87 L194.00,205.52 L195.00,205.16 L196.00,204.80 L197.00,204.45 L198.00,204.09 L199.00,203.74 L200.00,203.38 L201.00,203.03 L202.00,202.68 L203.00,202.32 L204.00,201.97 L205.00,201.62 L206.00,201.26 L207.00,200.91 L208.00,200.56 L209.00,200.20 L210.00,199.85 L211.00,199.50 L212.00,199.15 L213.00,198.79 L214.00,198.44 L215.00,198.09 L216.00,197.74 L217.00,197.38 L218.00,197.03 L219.00,196.68 L220.00,196.32 L221.00,195.97 L222.00,195.62 L223.00,195.26 L224.00,194.91 L225.00,194.55 L226.00,194.20 L227.00,193.84 L228.00,193.49 L229.00,193.13 L230.00,192.77 L231.00,192.42 L232.00,192.06 L233.00,191.70 L234.00,191.34 L235.00,190.99 L236.00,190.63 L237.00,190.27 L238.00,189.91 L239.00,189.55 L240.00,189.19 L241.00,188.84 L242.00,188.48 L243.00,188.13 L244.00,187.77 L245.00,187.42 L246.00,187.07 L247.00,186.73 L248.00,186.38 L249.00,186.04 L250.00,185.70 L251.00,185.37 L252.00,185.04 L253.00,184.71 L254.00,184.38 L255.00,184.07 L256.00,183.75 L257.00,183.44 L258.00,183.14 L259.00,182.84 L260.00,182.55 L261.00,182.27 L262.00,181.99 L263.00,181.72 L264.00,181.46 L265.00,181.21 L266.00,180.96 L267.00,180.72 L268.00,180.49 L269.00,180.27 L270.00,180.05 L271.00,179.85 L272.00,179.65 L273.00,179.47 L274.00,179.29 L275.00,179.13 L276.00,178.98 L277.00,178.84 L278.00,178.71 L279.00,178.59 L280.00,178.49 L281.00,178.40 L282.00,178.33 L283.00,178.27 L284.00,178.24 L285.00,178.23 L286.00,178.25 L287.00,178.30 L288.00,178.38 L289.00,178.50 L290.00,178.66 L291.00,178.86 L292.00,179.11 L293.00,179.42 L294.00,179.79 L295.00,180.22 L296.00,180.73 L297.00,181.33 L298.00,182.02 L299.00,182.82 L300.00,183.74 L301.00,184.81 L302.00,186.05 L303.00,187.52 L304.00,189.29 L305.00,191.47 L306.00,194.29 L306.30,195.31 L306.35,195.50 L306.40,195.68 L306.45,195.87 L306.50,196.06 L306.55,196.25 L306.60,196.45 L306.65,196.66 L306.70,196.86 L306.75,197.07 L306.80,197.29 L306.85,197.51 L306.90,197.73 L306.95,197.96 L307.00,198.19 L307.05,198.43 L307.10,198.68 L307.15,198.93 L307.20,199.19 L307.25,199.45 L307.30,199.72 L307.35,200.00 L307.40,200.28 L307.45,200.57 L307.50,200.87 L307.55,201.18 L307.60,201.50 L307.65,201.83 L307.70,202.17 L307.75,202.52 L307.80,202.88 L307.85,203.25 L307.90,203.64 L307.95,204.04 L308.00,204.46 L308.05,204.89 L308.10,205.34 L308.15,205.81 L308.20,206.31 L308.25,206.82 L308.30,207.36 L308.35,207.93 L308.40,208.53 L308.45,209.17 L308.50,209.84 L308.55,210.56 L308.60,211.33 L308.65,212.15 L308.70,213.05 L308.75,214.02 L308.80,215.08 L308.85,216.26 L308.90,217.58 L309.30,218.20 L309.70,217.46 L309.75,216.12 L309.80,214.93 L309.85,213.85 L309.90,212.87 L309.95,211.96 L310.00,211.12 L310.05,210.34 L310.10,209.60 L310.15,208.91 L310.20,208.26 L310.25,207.65 L310.30,207.06 L310.35,206.51 L310.40,205.98 L310.45,205.47 L310.50,204.98 L310.55,204.52 L310.60,204.07 L310.65,203.64 L310.70,203.22 L310.75,202.82 L310.80,202.43 L310.85,202.05 L310.90,201.69 L310.95,201.33 L311.00,200.99 L311.05,200.66 L311.10,200.33 L311.15,200.02 L311.20,199.71 L311.25,199.41 L311.30,199.12 L311.35,198.83 L311.40,198.55 L311.45,198.28 L311.50,198.01 L311.55,197.75 L311.60,197.50 L311.65,197.25 L311.70,197.01 L311.75,196.77 L311.80,196.53 L311.85,196.30 L311.90,196.07 L311.95,195.85 L312.00,195.63 L312.05,195.42 L312.10,195.21 L312.15,195.00 L312.20,194.80 L312.25,194.60 L312.30,194.40 L312.80,192.59 L313.30,191.01 L313.80,189.60 L314.30,188.34 L314.80,187.19 L315.30,186.13 L315.80,185.15 L316.30,184.25 L316.80,183.40 L317.30,182.60 L317.80,181.85 L318.30,181.15 L318.80,180.48 L319.30,179.85 L319.80,179.25 L320.30,178.69 L320.80,178.15 L321.30,177.64 L321.80,177.15 L322.30,176.69 L322.80,176.26 L323.30,175.84 L323.80,175.45 L324.30,175.09 L324.80,174.74 L325.30,174.42 L325.80,174.11 L326.30,173.83 L326.80,173.57 L327.30,173.32 L327.80,173.10 L328.30,172.90 L328.80,172.72 L329.30,172.56 L329.80,172.41 L330.30,172.29 L330.80,172.18 L331.30,172.09 L331.80,172.02 L332.30,171.96 L332.80,171.92 L333.30,171.89 L333.80,171.88 L334.30,171.89 L334.80,171.91 L335.30,171.94 L335.80,171.99 L336.30,172.05 L336.80,172.12 L337.30,172.21 L337.80,172.31 L338.30,172.42 L338.80,172.55 L339.30,172.68 L339.80,172.83 L340.30,172.99 L340.80,173.16 L341.30,173.34 L341.80,173.53 L342.30,173.73 L342.80,173.94 L343.30,174.16 L343.80,174.39 L344.30,174.63 L344.80,174.88 L345.30,175.14 L345.80,175.41 L346.30,175.68 L346.80,175.97 L347.30,176.27 L347.80,176.58 L348.30,176.90 L348.80,177.23 L349.30,177.58 L349.80,177.93 L350.30,178.30 L350.80,178.68 L351.30,179.07 L351.80,179.48 L352.30,179.90 L352.80,180.33 L353.30,180.78 L353.80,181.24 L354.30,181.72 L354.80,182.21 L355.30,182.72 L355.80,183.24 L356.30,183.78 L356.80,184.34 L357.30,184.91 L357.80,185.49 L358.30,186.10 L358.80,186.72 L359.30,187.36 L359.80,188.02 L360.30,188.70 L360.80,189.39 L361.30,190.10 L361.80,190.83 L362.30,191.58 L362.80,192.35 L363.30,193.14 L363.80,193.94 L364.30,194.76 L364.80,195.60 L365.30,196.45 L365.80,197.33 L366.30,198.22 L366.80,199.13 L367.30,200.05 L367.80,201.00 L368.30,201.96 L368.80,202.93 L369.30,203.93 L369.80,204.94 L370.30,205.97 L370.80,207.01 L371.30,208.07 L371.80,209.15 L372.30,210.24 L372.80,211.36 L373.30,212.48 L373.80,213.63 L374.30,214.79 L374.80,215.96 L375.30,217.15 L375.80,218.36 L376.30,219.59 L376.80,220.83 L377.30,222.08 L377.80,223.36 L378.30,224.66 L378.80,225.97 L379.30,227.31 L379.80,228.67 L380.30,230.06 L380.80,231.47 L381.30,232.90 L381.80,234.36 L382.30,235.85 L382.80,237.36 L383.30,238.91 L383.80,240.49 L384.30,242.10 L384.80,243.74 L385.30,245.41 L385.80,247.12 L386.30,248.87 L386.80,250.65 L387.30,252.47 L387.80,254.32 L388.30,256.22 L388.80,258.16 L389.30,260.14" stroke="#00ff00" stroke-width="2.15"/>
<path d="M225.6,184.1 H452.5" stroke="#808080" stroke-width="2.1" stroke-dasharray="3.6 4.06"/>
<path d="M225.6,207.1 H452.5" stroke="#808080" stroke-width="2.3" stroke-dasharray="7.6 4.7"/>
</g>
<rect x="454.9" y="183.1" width="1.6" height="2" fill="#8a8a8a"/>
<path d="M107.20,254.00 v-1.80 M107.20,21.00 v1.80 M125.10,254.00 v-1.80 M125.10,21.00 v1.80 M137.80,254.00 v-1.80 M137.80,21.00 v1.80 M147.65,254.00 v-1.80 M147.65,21.00 v1.80 M155.70,254.00 v-1.80 M155.70,21.00 v1.80 M162.50,254.00 v-1.80 M162.50,21.00 v1.80 M168.40,254.00 v-1.80 M168.40,21.00 v1.80 M173.60,254.00 v-1.80 M173.60,21.00 v1.80 M208.85,254.00 v-1.80 M208.85,21.00 v1.80 M226.75,254.00 v-1.80 M226.75,21.00 v1.80 M239.45,254.00 v-1.80 M239.45,21.00 v1.80 M249.30,254.00 v-1.80 M249.30,21.00 v1.80 M257.35,254.00 v-1.80 M257.35,21.00 v1.80 M264.15,254.00 v-1.80 M264.15,21.00 v1.80 M270.05,254.00 v-1.80 M270.05,21.00 v1.80 M275.25,254.00 v-1.80 M275.25,21.00 v1.80 M310.50,254.00 v-1.80 M310.50,21.00 v1.80 M328.40,254.00 v-1.80 M328.40,21.00 v1.80 M341.10,254.00 v-1.80 M341.10,21.00 v1.80 M350.95,254.00 v-1.80 M350.95,21.00 v1.80 M359.00,254.00 v-1.80 M359.00,21.00 v1.80 M365.80,254.00 v-1.80 M365.80,21.00 v1.80 M371.70,254.00 v-1.80 M371.70,21.00 v1.80 M376.90,254.00 v-1.80 M376.90,21.00 v1.80 M412.15,254.00 v-1.80 M412.15,21.00 v1.80 M430.05,254.00 v-1.80 M430.05,21.00 v1.80 M442.75,254.00 v-1.80 M442.75,21.00 v1.80 M452.60,254.00 v-1.80 M452.60,21.00 v1.80 M76.50,48.18 h1.8 M452.50,48.18 h-1.8 M76.50,49.58 h1.8 M452.50,49.58 h-1.8 M76.50,50.88 h1.8 M452.50,50.88 h-1.8 M76.50,52.08 h1.8 M452.50,52.08 h-1.8 M76.50,53.68 h1.8 M452.50,53.68 h-1.8 M76.50,55.68 h1.8 M452.50,55.68 h-1.8 M76.50,58.58 h1.8 M452.50,58.58 h-1.8 M76.50,63.58 h1.8 M452.50,63.58 h-1.8 M76.50,70.88 h1.8 M452.50,70.88 h-1.8 M76.50,99.96 h1.8 M452.50,99.96 h-1.8 M76.50,101.36 h1.8 M452.50,101.36 h-1.8 M76.50,102.66 h1.8 M452.50,102.66 h-1.8 M76.50,103.86 h1.8 M452.50,103.86 h-1.8 M76.50,105.46 h1.8 M452.50,105.46 h-1.8 M76.50,107.46 h1.8 M452.50,107.46 h-1.8 M76.50,110.36 h1.8 M452.50,110.36 h-1.8 M76.50,115.36 h1.8 M452.50,115.36 h-1.8 M76.50,122.66 h1.8 M452.50,122.66 h-1.8 M76.50,151.74 h1.8 M452.50,151.74 h-1.8 M76.50,153.14 h1.8 M452.50,153.14 h-1.8 M76.50,154.44 h1.8 M452.50,154.44 h-1.8 M76.50,155.64 h1.8 M452.50,155.64 h-1.8 M76.50,157.24 h1.8 M452.50,157.24 h-1.8 M76.50,159.24 h1.8 M452.50,159.24 h-1.8 M76.50,162.14 h1.8 M452.50,162.14 h-1.8 M76.50,167.14 h1.8 M452.50,167.14 h-1.8 M76.50,174.44 h1.8 M452.50,174.44 h-1.8 M76.50,203.52 h1.8 M452.50,203.52 h-1.8 M76.50,204.92 h1.8 M452.50,204.92 h-1.8 M76.50,206.22 h1.8 M452.50,206.22 h-1.8 M76.50,207.42 h1.8 M452.50,207.42 h-1.8 M76.50,209.02 h1.8 M452.50,209.02 h-1.8 M76.50,211.02 h1.8 M452.50,211.02 h-1.8 M76.50,213.92 h1.8 M452.50,213.92 h-1.8 M76.50,218.92 h1.8 M452.50,218.92 h-1.8 M76.50,226.22 h1.8 M452.50,226.22 h-1.8" stroke="#222" stroke-width="0.8" fill="none"/>
<path d="M76.60,254.00 v-4.00 M76.60,21.00 v4.00 M178.25,254.00 v-4.00 M178.25,21.00 v4.00 M279.90,254.00 v-4.00 M279.90,21.00 v4.00 M381.55,254.00 v-4.00 M381.55,21.00 v4.00" stroke="#555" stroke-width="1" fill="none"/>
<path d="M76.50,46.50 h4.3 M452.50,46.50 h-4.3 M76.50,98.50 h4.3 M452.50,98.50 h-4.3 M76.50,150.50 h4.3 M452.50,150.50 h-4.3 M76.50,202.50 h4.3 M452.50,202.50 h-4.3 M76.50,254.50 h4.3 M452.50,254.50 h-4.3" stroke="#777" stroke-width="1" fill="none"/>
<path d="M76.0,21.0 H453.0 M76.0,254.0 H453.0" stroke="#6a6a6a" stroke-width="1" fill="none"/>
<path d="M76.5,20.5 V254.5" stroke="#505050" stroke-width="1" fill="none"/>
<path d="M452.7,20.5 V254.5" stroke="#707070" stroke-width="1.1" fill="none"/>
<g font-family="Liberation Serif, serif" fill="#000" stroke="#000" stroke-width="0.15">
<text x="54.2" y="52.9" font-size="14.3" text-anchor="end" textLength="11.9" lengthAdjust="spacingAndGlyphs">10</text><text x="55.4" y="47.1" font-size="9.6" textLength="5.6" lengthAdjust="spacingAndGlyphs">−</text><text x="61.6" y="46.5" font-size="9.6">20</text>
<text x="54.2" y="104.7" font-size="14.3" text-anchor="end" textLength="11.9" lengthAdjust="spacingAndGlyphs">10</text><text x="55.4" y="98.9" font-size="9.6" textLength="5.6" lengthAdjust="spacingAndGlyphs">−</text><text x="61.6" y="98.3" font-size="9.6">22</text>
<text x="54.2" y="156.5" font-size="14.3" text-anchor="end" textLength="11.9" lengthAdjust="spacingAndGlyphs">10</text><text x="55.4" y="150.7" font-size="9.6" textLength="5.6" lengthAdjust="spacingAndGlyphs">−</text><text x="61.6" y="150.1" font-size="9.6">24</text>
<text x="54.2" y="208.3" font-size="14.3" text-anchor="end" textLength="11.9" lengthAdjust="spacingAndGlyphs">10</text><text x="55.4" y="202.5" font-size="9.6" textLength="5.6" lengthAdjust="spacingAndGlyphs">−</text><text x="61.6" y="201.9" font-size="9.6">26</text>
<text x="54.2" y="260.1" font-size="14.3" text-anchor="end" textLength="11.9" lengthAdjust="spacingAndGlyphs">10</text><text x="55.4" y="254.2" font-size="9.6" textLength="5.6" lengthAdjust="spacingAndGlyphs">−</text><text x="61.6" y="253.7" font-size="9.6">28</text>
<text x="76.0" y="271.8" font-size="14.3" text-anchor="middle">1</text>
<text x="178.5" y="271.8" font-size="14.3" text-anchor="middle" textLength="13.4" lengthAdjust="spacingAndGlyphs">10</text>
<text x="280.2" y="271.8" font-size="14.3" text-anchor="middle" textLength="20.2" lengthAdjust="spacingAndGlyphs">100</text>
<text x="382.0" y="271.8" font-size="14.3" text-anchor="middle" textLength="26.9" lengthAdjust="spacingAndGlyphs">1000</text>

<text x="244.6" y="297.9" font-size="13.6"><tspan font-style="italic">&#957;</tspan>[GHz]</text>
<text transform="translate(26.8,198.2) rotate(-90)" font-size="13.6" stroke="none">|&#916;I| [W <tspan font-style="italic">m</tspan><tspan dy="-5.8" font-size="9.4">&#8722;2</tspan><tspan dy="5.8" dx="2.8">Sr</tspan><tspan dy="-5.8" dx="0.6 0.3" font-size="9.4">&#8722;1</tspan><tspan dy="5.8" dx="1.1">Hz</tspan><tspan dy="-5.8" dx="0.7 0.3" font-size="9.4">&#8722;1</tspan><tspan dy="5.8" dx="1.0">]</tspan></text>
</g>
</svg>
</div>
</body></html>
